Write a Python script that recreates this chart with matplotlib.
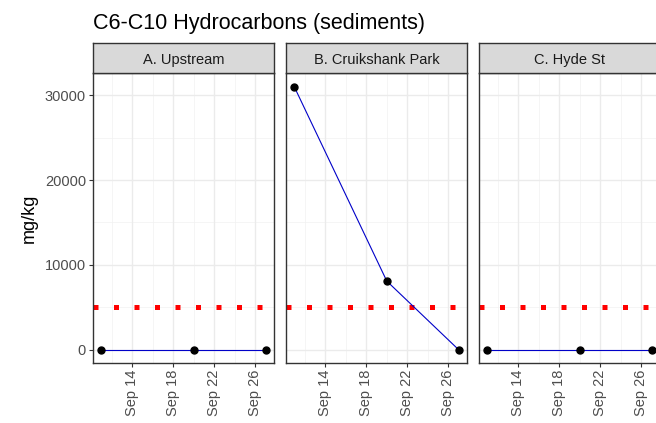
import matplotlib
matplotlib.use("Agg")
import matplotlib.pyplot as plt
import matplotlib.dates as mdates
import numpy as np
import datetime as dt

plt.rcParams['font.family'] = ['Liberation Sans', 'DejaVu Sans']

title = "C6-C10 Hydrocarbons (sediments)"
sites = ["A. Upstream", "B. Cruikshank Park", "C. Hyde St"]
dates = ["2020-09-11", "2020-09-20", "2020-09-27"]
values = {
    "A. Upstream": [0, 0, 0],
    "B. Cruikshank Park": [31000, 8100, 0],
    "C. Hyde St": [0, 0, 0],
}
guideline = 5000
ylabel = "mg/kg"
xtick_dates = ["2020-09-14", "2020-09-18", "2020-09-22", "2020-09-26"]
xminor_dates = ["2020-09-12", "2020-09-16", "2020-09-20", "2020-09-24"]
yticks = [0, 10000, 20000, 30000]
yminor = [5000, 15000, 25000]

W, H = 656, 423
fig = plt.figure(figsize=(W / 100, H / 100), dpi=100)
fig.patch.set_facecolor('white')

d = [dt.datetime.fromisoformat(s) for s in dates]
dnum = mdates.date2num(d)
xr = dnum.max() - dnum.min()
xlim = (dnum.min() - 0.05 * xr, dnum.max() + 0.05 * xr)
allv = [v for s in sites for v in values[s]] + [guideline]
yr = max(allv) - min(allv)
ylim = (min(allv) - 0.05 * yr, max(allv) + 0.05 * yr)

lefts = [93, 286, 479]
pw = 181
ptop, pbot = 73.5, 363
stop = 43

def fpos(l, t, w, h):
    return [l / W, 1 - (t + h) / H, w / W, h / H]

xt = mdates.date2num([dt.datetime.fromisoformat(s) for s in xtick_dates])
xm = mdates.date2num([dt.datetime.fromisoformat(s) for s in xminor_dates])

for i, site in enumerate(sites):
    ax = fig.add_axes(fpos(lefts[i], ptop, pw, pbot - ptop))
    ax.set_xlim(xlim)
    ax.set_ylim(ylim)
    ax.set_facecolor('white')
    for xv in xm:
        ax.axvline(xv, color='#F2F2F2', lw=0.5, zorder=0)
    for yv in yminor:
        ax.axhline(yv, color='#F2F2F2', lw=0.5, zorder=0)
    for xv in xt:
        ax.axvline(xv, color='#EBEBEB', lw=1.0, zorder=0)
    for yv in yticks:
        ax.axhline(yv, color='#EBEBEB', lw=1.0, zorder=0)
    ax.axhline(guideline, color='#FF0000', lw=3.6, dashes=(1, 3.1),
               dash_capstyle='butt', zorder=2)
    ax.plot(dnum, values[site], color='#0000C8', lw=0.8, zorder=3)
    ax.plot(dnum, values[site], 'o', color='black', ms=5, zorder=4)
    ax.set_xticks(xt)
    ax.set_xticklabels([dt.datetime.fromisoformat(s).strftime('Sep %d').replace(' 0', ' ')
                        for s in xtick_dates], rotation=90, fontsize=10.5, color='#4D4D4D')
    ax.set_yticks(yticks)
    ax.tick_params(axis='both', color='#333333', length=3, width=0.8, pad=2)
    if i == 0:
        ax.set_yticklabels([str(v) for v in yticks], fontsize=10.5, color='#4D4D4D')
        ax.set_ylabel(ylabel, fontsize=13, color='black', labelpad=5)
    else:
        ax.set_yticklabels([])
        ax.tick_params(axis='y', length=0)
    for sp in ax.spines.values():
        sp.set_color('#333333')
        sp.set_linewidth(1.0)

    sax = fig.add_axes(fpos(lefts[i], stop, pw, ptop - stop))
    sax.set_facecolor('#D9D9D9')
    sax.set_xticks([])
    sax.set_yticks([])
    for sp in sax.spines.values():
        sp.set_color('#333333')
        sp.set_linewidth(1.0)
    sax.text(0.5, 0.45, site, ha='center', va='center', fontsize=10.5,
             color='#1A1A1A', transform=sax.transAxes)

fig.text(93 / W, 1 - 29 / H, title, fontsize=15.5, color='black', ha='left', va='baseline')

fig.savefig('out.png', dpi=100)
